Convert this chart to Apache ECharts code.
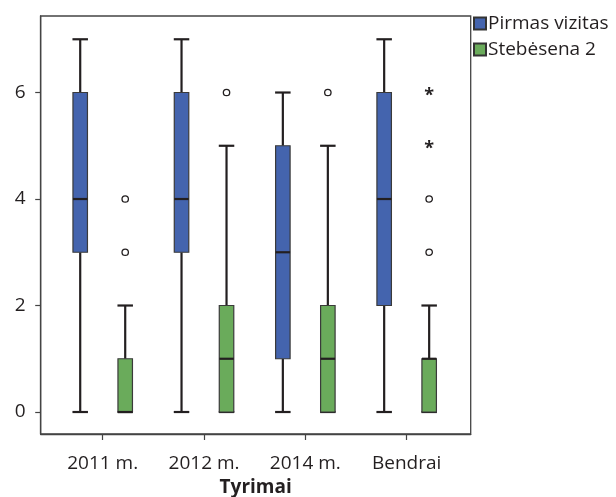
<!DOCTYPE html>
<html>
<head>
<meta charset="utf-8">
<script src="https://cdn.jsdelivr.net/npm/echarts@6/dist/echarts.min.js"></script>
<style>
  html, body { margin: 0; padding: 0; background: #fff; }
  #chart { width: 616px; height: 497px; }
</style>
</head>
<body>
<div id="chart"></div>
<script>
// Categories along the x axis
const categories = ['2011 m.', '2012 m.', '2014 m.', 'Bendrai'];
const seriesNames = ['Pirmas vizitas', 'Stebėsena 2'];
const yTicks = [0, 2, 4, 6];
const xTicks = [0, 1, 2, 3];

// Five-number summaries: [min, Q1, median, Q3, max]
const pirmasBox = [
  [0, 3, 4, 6, 7],
  [0, 3, 4, 6, 7],
  [0, 1, 3, 5, 6],
  [0, 2, 4, 6, 7]
];
const stebesenaBox = [
  [0, 0, 0, 1, 2],
  [0, 0, 1, 2, 5],
  [0, 0, 1, 2, 5],
  [0, 0, 1, 1, 2]
];

// Outliers (circles) and extreme values (asterisks): [category index, value]
const stebesenaOutliers = [[0, 3], [0, 4], [1, 6], [2, 6], [3, 3], [3, 4]];
const stebesenaExtremes = [[3, 5], [3, 6]];

const FONT = 'Open Sans';
const FONT_SIZE = 19;
const INK = '#231f20';
const FRAME = '#444';
const BOX_OFFSET = 22.5;
const BOX_W = 14.5;

function boxRenderer(offset) {
  return function (params, api) {
    const idx = api.value(0);
    const vals = [1, 2, 3, 4, 5].map(i => api.value(i));
    const cx = api.coord([idx, 0])[0] + offset;
    const y = vals.map(v => api.coord([idx, v])[1]);
    const half = BOX_W / 2;
    const lineStyle = { stroke: INK, lineWidth: 2.2 };
    const color = api.visual('color');
    return {
      type: 'group',
      children: [
        { type: 'line', shape: { x1: cx, y1: y[0], x2: cx, y2: y[1] }, style: lineStyle },
        { type: 'line', shape: { x1: cx, y1: y[3], x2: cx, y2: y[4] }, style: lineStyle },
        { type: 'line', shape: { x1: cx - half - 0.5, y1: y[0], x2: cx + half + 0.5, y2: y[0] }, style: lineStyle },
        { type: 'line', shape: { x1: cx - half - 0.5, y1: y[4], x2: cx + half + 0.5, y2: y[4] }, style: lineStyle },
        { type: 'rect', shape: { x: cx - half, y: y[3], width: BOX_W, height: y[1] - y[3] },
          style: { fill: color, stroke: '#3a3a3a', lineWidth: 1.2 } },
        { type: 'line', shape: { x1: cx - half, y1: y[2], x2: cx + half, y2: y[2] }, style: lineStyle }
      ]
    };
  };
}

function pointRenderer(offset, star) {
  return function (params, api) {
    const p = api.coord([api.value(0), api.value(1)]);
    const cx = p[0] + offset;
    if (star) {
      return {
        type: 'text',
        style: { x: cx, y: p[1] + 3, text: '*', fill: INK, font: 'bold 18px ' + FONT,
                 align: 'center', verticalAlign: 'middle' }
      };
    }
    return {
      type: 'circle',
      shape: { cx: cx, cy: p[1], r: 3.2 },
      style: { fill: '#fff', stroke: INK, lineWidth: 1.3 }
    };
  };
}

const chart = echarts.init(document.getElementById('chart'), null, { renderer: 'canvas' });

chart.setOption({
  animation: false,
  backgroundColor: '#fff',
  textStyle: { fontFamily: FONT },
  grid: {
    left: 40.7, top: 16, width: 430, height: 418,
    outerBoundsMode: 'none',
    show: true, borderColor: FRAME, borderWidth: 1.3, backgroundColor: 'transparent'
  },
  legend: {
    data: seriesNames,
    orient: 'vertical',
    left: 473,
    top: 14,
    padding: 0,
    icon: 'rect',
    itemWidth: 12,
    itemHeight: 12,
    itemGap: 7,
    textStyle: { fontFamily: FONT, fontSize: FONT_SIZE, color: INK, padding: [0, 0, 0, -3] }
  },
  xAxis: {
    type: 'value',
    min: -0.612,
    max: 3.632,
    axisLine: { show: true, onZero: false, lineStyle: { color: FRAME, width: 1.3 } },
    axisTick: { show: true, length: 6, customValues: xTicks,
                lineStyle: { color: FRAME, width: 1.2 } },
    axisLabel: { margin: 20, fontSize: FONT_SIZE, color: INK, fontFamily: FONT,
                 customValues: xTicks,
                 formatter: v => categories[Math.round(v)] },
    splitLine: { show: false },
    name: 'Tyrimai',
    nameLocation: 'middle',
    nameGap: 44,
    nameTextStyle: { fontSize: FONT_SIZE, fontWeight: 'bold', color: INK, fontFamily: FONT }
  },
  yAxis: {
    type: 'value',
    min: -0.413,
    max: 7.437,
    axisLine: { show: true, onZero: false, lineStyle: { color: FRAME, width: 1.3 } },
    axisTick: { show: true, length: 5.5, customValues: yTicks,
                lineStyle: { color: FRAME, width: 1.2 } },
    axisLabel: { margin: 15, fontSize: FONT_SIZE, color: INK, fontFamily: FONT,
                 customValues: yTicks },
    splitLine: { show: false }
  },
  series: [
    {
      name: seriesNames[0],
      type: 'custom',
      itemStyle: { color: '#4464ae', borderColor: '#333', borderWidth: 1 },
      renderItem: boxRenderer(-BOX_OFFSET),
      encode: { x: 0, y: [1, 2, 3, 4, 5] },
      data: pirmasBox.map((b, i) => [i].concat(b))
    },
    {
      name: seriesNames[1],
      type: 'custom',
      itemStyle: { color: '#6aab5b', borderColor: '#333', borderWidth: 1 },
      renderItem: boxRenderer(BOX_OFFSET),
      encode: { x: 0, y: [1, 2, 3, 4, 5] },
      data: stebesenaBox.map((b, i) => [i].concat(b))
    },
    {
      name: seriesNames[1],
      type: 'custom',
      renderItem: pointRenderer(BOX_OFFSET, false),
      encode: { x: 0, y: 1 },
      data: stebesenaOutliers
    },
    {
      name: seriesNames[1],
      type: 'custom',
      renderItem: pointRenderer(BOX_OFFSET, true),
      encode: { x: 0, y: 1 },
      data: stebesenaExtremes
    }
  ]
});
</script>
</body>
</html>
